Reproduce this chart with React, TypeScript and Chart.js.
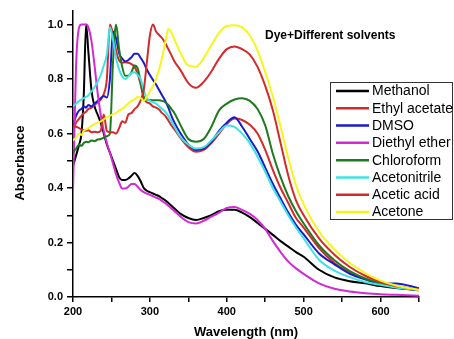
import React, { useEffect, useRef } from 'react';
import { Chart, registerables } from 'chart.js';

Chart.register(...registerables);

const wavelengths = [200, 204, 208, 211, 214, 217, 220, 224, 228, 232, 236, 240, 244, 248, 252, 256, 260, 264, 268, 272, 276, 280, 284, 288, 292, 296, 300, 304, 308, 312, 316, 320, 324, 328, 332, 340, 350, 360, 370, 380, 390, 400, 410, 420, 430, 440, 450, 460, 470, 480, 490, 500, 520, 540, 560, 580, 600, 620, 650];

const methanol = [0.48, 0.52, 0.56, 0.60, 0.74, 1.0, 0.90, 0.76, 0.70, 0.67, 0.64, 0.60, 0.56, 0.53, 0.50, 0.47, 0.44, 0.43, 0.43, 0.435, 0.445, 0.455, 0.445, 0.425, 0.40, 0.39, 0.385, 0.38, 0.375, 0.37, 0.362, 0.355, 0.345, 0.335, 0.325, 0.305, 0.29, 0.283, 0.29, 0.30, 0.315, 0.32, 0.32, 0.31, 0.293, 0.272, 0.25, 0.228, 0.205, 0.185, 0.165, 0.148, 0.10, 0.072, 0.058, 0.05, 0.04, 0.033, 0.025];

const ethylAcetate = [0.615, 0.64, 0.655, 0.665, 0.675, 0.68, 0.69, 0.695, 0.705, 0.715, 0.725, 0.745, 0.80, 1.0, 0.965, 0.905, 0.868, 0.86, 0.862, 0.86, 0.855, 0.845, 0.82, 0.78, 0.73, 0.715, 0.71, 0.70, 0.695, 0.688, 0.675, 0.665, 0.648, 0.63, 0.615, 0.583, 0.55, 0.533, 0.54, 0.565, 0.60, 0.635, 0.655, 0.65, 0.632, 0.60, 0.54, 0.466, 0.40, 0.345, 0.29, 0.255, 0.18, 0.125, 0.09, 0.066, 0.048, 0.036, 0.026];

const dmso = [0.63, 0.665, 0.685, 0.69, 0.70, 0.695, 0.705, 0.70, 0.71, 0.72, 0.73, 0.738, 0.732, 0.80, 0.975, 0.95, 0.895, 0.875, 0.865, 0.87, 0.88, 0.893, 0.893, 0.878, 0.86, 0.835, 0.815, 0.797, 0.78, 0.76, 0.74, 0.72, 0.695, 0.665, 0.64, 0.60, 0.56, 0.54, 0.545, 0.57, 0.61, 0.64, 0.66, 0.625, 0.58, 0.535, 0.475, 0.415, 0.362, 0.31, 0.265, 0.23, 0.16, 0.12, 0.085, 0.065, 0.05, 0.05, 0.032];

const diethylEther = [0.39, 0.85, 0.99, 1.0, 1.0, 1.0, 0.99, 0.94, 0.85, 0.75, 0.67, 0.61, 0.565, 0.53, 0.49, 0.45, 0.42, 0.398, 0.398, 0.405, 0.415, 0.415, 0.405, 0.393, 0.385, 0.38, 0.375, 0.37, 0.365, 0.36, 0.352, 0.345, 0.335, 0.325, 0.315, 0.295, 0.275, 0.27, 0.28, 0.295, 0.31, 0.327, 0.33, 0.32, 0.305, 0.283, 0.25, 0.205, 0.165, 0.13, 0.105, 0.085, 0.05, 0.03, 0.02, 0.014, 0.01, 0.008, 0.005];

const chloroform = [0.53, 0.545, 0.56, 0.555, 0.565, 0.57, 0.568, 0.575, 0.572, 0.578, 0.58, 0.585, 0.59, 0.60, 0.86, 1.0, 0.91, 0.845, 0.812, 0.812, 0.825, 0.85, 0.84, 0.79, 0.735, 0.725, 0.723, 0.722, 0.722, 0.722, 0.72, 0.715, 0.705, 0.69, 0.675, 0.63, 0.58, 0.57, 0.58, 0.625, 0.685, 0.71, 0.725, 0.73, 0.72, 0.69, 0.63, 0.525, 0.44, 0.37, 0.315, 0.27, 0.19, 0.135, 0.095, 0.068, 0.05, 0.037, 0.027];

const acetonitrile = [0.70, 0.71, 0.72, 0.725, 0.73, 0.735, 0.74, 0.755, 0.77, 0.79, 0.815, 0.85, 0.89, 0.99, 0.945, 0.875, 0.835, 0.81, 0.80, 0.81, 0.822, 0.825, 0.815, 0.80, 0.76, 0.73, 0.72, 0.715, 0.71, 0.70, 0.69, 0.68, 0.665, 0.645, 0.625, 0.587, 0.56, 0.545, 0.55, 0.575, 0.605, 0.63, 0.625, 0.60, 0.565, 0.515, 0.46, 0.40, 0.35, 0.30, 0.255, 0.215, 0.137, 0.097, 0.073, 0.055, 0.045, 0.035, 0.025];

const aceticAcid = [0.63, 0.625, 0.62, 0.615, 0.612, 0.61, 0.612, 0.605, 0.607, 0.605, 0.61, 0.67, 0.61, 0.605, 0.605, 0.60, 0.62, 0.645, 0.64, 0.67, 0.675, 0.69, 0.70, 0.722, 0.76, 0.86, 0.96, 1.0, 0.975, 0.962, 0.95, 0.932, 0.91, 0.888, 0.865, 0.832, 0.785, 0.768, 0.79, 0.828, 0.875, 0.91, 0.92, 0.91, 0.89, 0.845, 0.775, 0.685, 0.565, 0.445, 0.355, 0.30, 0.215, 0.155, 0.11, 0.078, 0.055, 0.04, 0.028];

const acetone = [0.575, 0.585, 0.60, 0.595, 0.61, 0.615, 0.62, 0.628, 0.635, 0.64, 0.645, 0.652, 0.66, 0.665, 0.672, 0.675, 0.685, 0.69, 0.70, 0.71, 0.72, 0.725, 0.735, 0.73, 0.72, 0.735, 0.755, 0.775, 0.80, 0.835, 0.88, 0.935, 0.985, 0.97, 0.945, 0.895, 0.85, 0.845, 0.878, 0.925, 0.97, 0.995, 0.998, 0.99, 0.96, 0.905, 0.825, 0.735, 0.625, 0.51, 0.41, 0.34, 0.24, 0.175, 0.125, 0.088, 0.06, 0.042, 0.026];

const seriesNames = ['Methanol', 'Ethyl acetate', 'DMSO', 'Diethyl ether', 'Chloroform', 'Acetonitrile', 'Acetic acid', 'Acetone'];
const seriesColors = ['#000000', '#d42a2a', '#1a1acd', '#d42ad4', '#1f7a1f', '#3de3e3', '#d42a2a', '#f5f51f'];

const titleText = 'Dye+Different solvents';
const xTitle = 'Wavelength (nm)';
const yTitle = 'Absorbance';

const FONT = '"Liberation Sans", Arial, Helvetica, sans-serif';

const overlay = {
  id: 'overlay',
  afterDraw(chart: any) {
    const { ctx, chartArea } = chart;
    ctx.save();
    ctx.fillStyle = '#000';
    ctx.textBaseline = 'middle';
    ctx.textAlign = 'left';
    ctx.font = `bold 12px ${FONT}`;
    ctx.fillText(titleText, 265, 36);

    ctx.save();
    ctx.translate(20, 163);
    ctx.rotate(-Math.PI / 2);
    ctx.textAlign = 'center';
    ctx.font = `bold 13px ${FONT}`;
    ctx.fillText(yTitle, 0, 0);
    ctx.restore();

    ctx.textAlign = 'center';
    ctx.font = `bold 13px ${FONT}`;
    ctx.fillText(xTitle, (chartArea.left + chartArea.right) / 2, 332);

    const lx = 330.5, ly = 82.5, lw = 122, lh = 137;
    ctx.fillStyle = '#fff';
    ctx.fillRect(lx, ly, lw, lh);
    ctx.strokeStyle = '#333';
    ctx.lineWidth = 1;
    ctx.strokeRect(lx, ly, lw, lh);
    chart.data.datasets.forEach((ds: any, i: number) => {
      const y = 91 + i * 17.29;
      ctx.strokeStyle = ds.borderColor;
      ctx.lineWidth = 2.5;
      ctx.beginPath();
      ctx.moveTo(336, y);
      ctx.lineTo(369, y);
      ctx.stroke();
      ctx.fillStyle = '#000';
      ctx.font = `14px ${FONT}`;
      ctx.textAlign = 'left';
      ctx.fillText(ds.label, 372, y + 0.5);
    });
    ctx.restore();
  },
};

export default function App() {
  const ref = useRef<HTMLCanvasElement>(null);
  useEffect(() => {
    if (!ref.current) return;
    const allSeries = [methanol, ethylAcetate, dmso, diethylEther, chloroform, acetonitrile, aceticAcid, acetone];
    const tickFont = { family: FONT, size: 11, weight: 'bold' as const };
    const chart = new Chart(ref.current, {
      type: 'line',
      data: {
        datasets: allSeries.map((s, i) => ({
          label: seriesNames[i],
          data: wavelengths.map((x, j) => ({ x, y: s[j] })),
          borderColor: seriesColors[i],
          backgroundColor: seriesColors[i],
          borderWidth: 2,
          pointRadius: 0,
          cubicInterpolationMode: 'monotone' as const,
          order: allSeries.length - i,
        })),
      },
      options: {
        animation: false,
        responsive: false,
        devicePixelRatio: 1,
        layout: { padding: { top: 11, right: 35, left: 0, bottom: 0 } },
        plugins: {
          legend: { display: false },
          tooltip: { enabled: false },
          title: { display: false },
        },
        scales: {
          x: {
            type: 'linear',
            min: 200,
            max: 650,
            ticks: {
              stepSize: 50,
              autoSkip: false,
              maxRotation: 0,
              padding: 3,
              color: '#000',
              font: tickFont,
              callback: (v: any) => (Number(v) % 100 === 0 ? String(v) : ''),
            },
            grid: { drawOnChartArea: false, drawTicks: true, tickLength: 5, color: '#000', lineWidth: 1.5 },
            border: { display: true, color: '#000', width: 1.5 },
            afterFit: (s: any) => { s.height = 42; },
          },
          y: {
            type: 'linear',
            min: 0,
            max: 1.05,
            ticks: {
              stepSize: 0.1,
              autoSkip: false,
              padding: 4,
              color: '#000',
              font: tickFont,
              callback: (v: any) => (Math.round(Number(v) * 10) % 2 === 0 ? Number(v).toFixed(1) : ''),
            },
            grid: { drawOnChartArea: false, drawTicks: true, tickLength: 6, color: '#000', lineWidth: 1.5 },
            border: { display: true, color: '#000', width: 1.5 },
            afterBuildTicks: (s: any) => { s.ticks = s.ticks.filter((t: any) => t.value <= 1.0001); },
            afterFit: (s: any) => { s.width = 73; },
          },
        },
      },
      plugins: [overlay],
    } as any);
    return () => chart.destroy();
  }, []);
  return (
    <div style={{ position: 'absolute', left: 0, top: 0 }}>
      <canvas ref={ref} width={454} height={339} />
    </div>
  );
}
